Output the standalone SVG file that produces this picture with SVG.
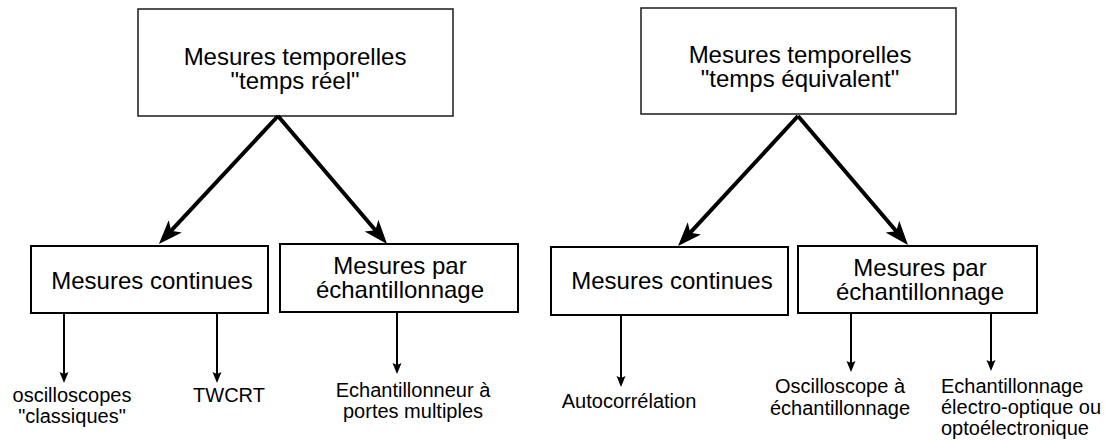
<svg xmlns="http://www.w3.org/2000/svg" width="1105" height="441" viewBox="0 0 1105 441">
<style>
text{font-family:"Liberation Sans",Arial,sans-serif;fill:#000}
.big{font-size:24px;text-anchor:middle}
.sm{font-size:20px;text-anchor:middle}
.sml{font-size:20px;text-anchor:start}
.top{fill:#fff;stroke:#1a1a1a;stroke-width:1.5}
.box{fill:#fff;stroke:#000;stroke-width:2}
.thick{stroke:#000;stroke-width:4;fill:none;marker-end:url(#bigHead)}
.thin{stroke:#000;stroke-width:2;fill:none;marker-end:url(#smallHead)}
</style>
<defs>
<marker id="bigHead" markerUnits="userSpaceOnUse" orient="auto" refX="0" refY="0" markerWidth="40" markerHeight="40" overflow="visible">
<path d="M16,0 L-8,-9 L-2,0 L-8,9 Z" fill="#000"/>
</marker>
<marker id="smallHead" markerUnits="userSpaceOnUse" orient="auto" refX="0" refY="0" markerWidth="20" markerHeight="20" overflow="visible">
<path d="M8,0 L-3,-4.5 L-1,0 L-3,4.5 Z" fill="#000"/>
</marker>
</defs>
<rect width="1105" height="441" fill="#fff"/>
<g id="n_reel">
<rect class="top" x="138" y="9" width="315" height="107"/>
<text class="big" x="295" y="65">Mesures temporelles</text>
<text class="big" x="295" y="89">"temps réel"</text>
</g>
<g id="n_equiv">
<rect class="top" x="641" y="8" width="315" height="106"/>
<text class="big" x="800" y="63">Mesures temporelles</text>
<text class="big" x="800" y="87">"temps équivalent"</text>
</g>
<g id="n_cont1">
<rect class="box" x="31" y="246" width="237" height="67"/>
<text class="big" x="152" y="289">Mesures continues</text>
</g>
<g id="n_ech1">
<rect class="box" x="280" y="244" width="238" height="68"/>
<text class="big" x="400" y="274">Mesures par</text>
<text class="big" x="400" y="298">échantillonnage</text>
</g>
<g id="n_cont2">
<rect class="box" x="551" y="247" width="237" height="68"/>
<text class="big" x="672" y="289">Mesures continues</text>
</g>
<g id="n_ech2">
<rect class="box" x="798" y="246" width="239" height="67"/>
<text class="big" x="920" y="276">Mesures par</text>
<text class="big" x="920" y="300">échantillonnage</text>
</g>
<g id="n_osc">
<text class="sm" x="72" y="402">oscilloscopes</text>
<text class="sm" x="72" y="423">"classiques"</text>
</g>
<g id="n_twcrt">
<text class="sm" x="229" y="402">TWCRT</text>
</g>
<g id="n_portes">
<text class="sm" x="413" y="397">Echantillonneur à</text>
<text class="sm" x="413" y="418">portes multiples</text>
</g>
<g id="n_auto">
<text class="sm" x="629" y="408">Autocorrélation</text>
</g>
<g id="n_oscech">
<text class="sm" x="840" y="393">Oscilloscope à</text>
<text class="sm" x="840" y="415">échantillonnage</text>
</g>
<g id="n_eo">
<text class="sml" x="941" y="393">Echantillonnage</text>
<text class="sml" x="941" y="414">électro-optique ou</text>
<text class="sml" x="941" y="435">optoélectronique</text>
</g>
<g id="connectors">
<path class="thick" d="M278,116 L169.8,232.2"/>
<path class="thick" d="M278,116 L376.7,231.8"/>
<path class="thick" d="M798,116 L688.9,234.2"/>
<path class="thick" d="M798,116 L897.6,232.8"/>
<path class="thin" d="M64,313 L64,375"/>
<path class="thin" d="M217,313 L217,375"/>
<path class="thin" d="M397,312 L397,366"/>
<path class="thin" d="M621,315 L621,379"/>
<path class="thin" d="M851,313 L851,364"/>
<path class="thin" d="M991,313 L991,363"/>
</g>
</svg>
